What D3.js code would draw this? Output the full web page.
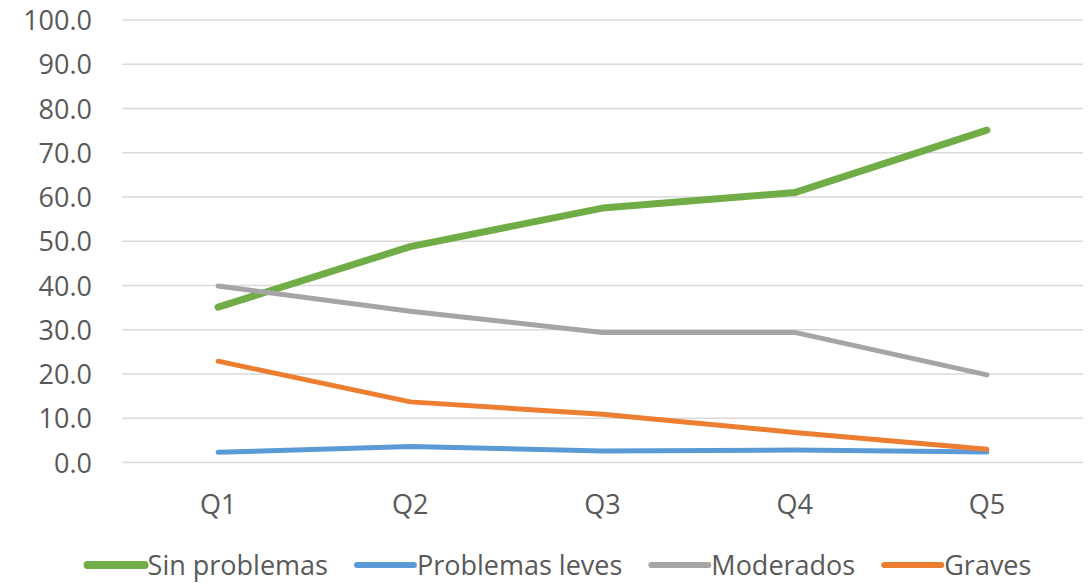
<!DOCTYPE html>
<html>
<head>
<meta charset="utf-8">
<script src="https://cdn.jsdelivr.net/npm/d3@7"></script>
<style>
  html, body { margin: 0; padding: 0; background: #fff; }
  svg text { font-family: "Open Sans", sans-serif; fill: #595959; }
</style>
</head>
<body>
<svg id="chart" width="1090" height="583"></svg>
<script>
const categories = ["Q1", "Q2", "Q3", "Q4", "Q5"];
const seriesNames = ["Sin problemas", "Problemas leves", "Moderados", "Graves"];
const sinProblemas = [35.1, 48.8, 57.5, 61.0, 75.1];
const problemasLeves = [2.3, 3.6, 2.6, 2.8, 2.4];
const moderados = [39.9, 34.2, 29.4, 29.4, 19.8];
const graves = [22.9, 13.7, 10.9, 6.8, 3.0];
const yTicks = [0, 10, 20, 30, 40, 50, 60, 70, 80, 90, 100];
const colors = ["#70ad47", "#5b9bd5", "#a5a5a5", "#ed7d31"];
const widths = [7, 5, 5, 5];

const series = [sinProblemas, problemasLeves, moderados, graves];

const svg = d3.select("#chart");
const margin = { left: 122, right: 1083, top: 20, bottom: 462.5 };
const fontSize = 27;

const x = d3.scaleBand().domain(categories).range([margin.left, margin.right]);
const y = d3.scaleLinear().domain([0, 100]).range([margin.bottom, margin.top]);

// gridlines
svg.append("g").selectAll("line").data(yTicks).join("line")
  .attr("x1", margin.left).attr("x2", margin.right)
  .attr("y1", d => y(d)).attr("y2", d => y(d))
  .attr("stroke", "#d9d9d9").attr("stroke-width", 1.3);

// y axis labels
const yAxis = d3.axisLeft(y).tickValues(yTicks).tickFormat(d3.format(".1f")).tickSize(0).tickPadding(0);
const gy = svg.append("g").attr("transform", "translate(92,0)").call(yAxis);
gy.select(".domain").remove();
gy.selectAll("text").attr("font-size", fontSize).attr("font-family", "Open Sans").attr("fill", "#595959").attr("dy", "0.36em");

// x axis labels
const xAxis = d3.axisBottom(x).tickSize(0).tickPadding(0);
const gx = svg.append("g").attr("transform", "translate(0,514)").call(xAxis);
gx.select(".domain").remove();
gx.selectAll("text").attr("font-size", fontSize).attr("font-family", "Open Sans").attr("fill", "#595959").attr("dy", 0);

// lines
const line = d3.line().x((d, i) => x(categories[i]) + x.bandwidth() / 2).y(d => y(d));
svg.append("g").selectAll("path").data(series).join("path")
  .attr("d", d => line(d))
  .attr("fill", "none")
  .attr("stroke", (d, i) => colors[i])
  .attr("stroke-width", (d, i) => widths[i])
  .attr("stroke-linecap", "round")
  .attr("stroke-linejoin", "round");

// legend
const legend = svg.append("g");
const items = legend.selectAll("g").data(seriesNames).join("g");
items.append("line").attr("x1", 0).attr("x2", 57).attr("y1", 0).attr("y2", 0)
  .attr("stroke", (d, i) => colors[i]).attr("stroke-width", (d, i) => widths[i] + 1)
  .attr("stroke-linecap", "round");
items.append("text").attr("x", 60).attr("y", 0).attr("dy", "0.36em")
  .attr("font-size", fontSize).text(d => d);
const gap = 29;
const itemW = [];
items.each(function () { itemW.push(this.getBBox().width); });
const total = d3.sum(itemW) + gap * (itemW.length - 1);
const start = 559.5 - total / 2;
items.attr("transform", (d, i) => {
  const tx = start + d3.sum(itemW.slice(0, i)) + gap * i;
  return `translate(${tx},565)`;
});
</script>
</body>
</html>
